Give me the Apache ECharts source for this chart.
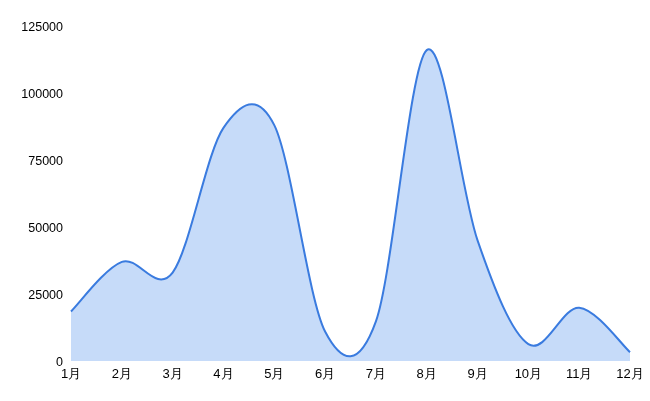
<!DOCTYPE html>
<html><head><meta charset="utf-8">
<script src="https://cdn.jsdelivr.net/npm/echarts@6/dist/echarts.min.js"></script>
<style>html,body{margin:0;padding:0;background:#fff}#c{width:650px;height:401px}</style>
</head><body><div id="c"></div>
<script>
const months = ['1月','2月','3月','4月','5月','6月','7月','8月','9月','10月','11月','12月'];
const values = [18500, 37000, 33000, 87000, 88000, 11000, 14800, 116000, 45000, 6300, 19900, 3300];
const yTicks = [0, 25000, 50000, 75000, 100000, 125000];

function renderCurve(params, api) {
  if (params.dataIndex !== 0) return null;
  const n = values.length;
  const pts = [];
  for (let i = 0; i < n; i++) pts.push(api.coord([i, values[i]]));
  const base = api.coord([0, 0])[1];
  const P = i => pts[Math.max(0, Math.min(n - 1, i))];
  let line = 'M' + pts[0][0] + ' ' + pts[0][1];
  for (let i = 0; i < n - 1; i++) {
    const p0 = P(i - 1), p1 = P(i), p2 = P(i + 1), p3 = P(i + 2);
    const c1x = p1[0] + (p2[0] - p0[0]) / 6, c1y = p1[1] + (p2[1] - p0[1]) / 6;
    const c2x = p2[0] - (p3[0] - p1[0]) / 6, c2y = p2[1] - (p3[1] - p1[1]) / 6;
    line += ' C' + c1x + ' ' + c1y + ' ' + c2x + ' ' + c2y + ' ' + p2[0] + ' ' + p2[1];
  }
  const area = line + ' L' + pts[n - 1][0] + ' ' + base + ' L' + pts[0][0] + ' ' + base + ' Z';
  return {
    type: 'group',
    children: [
      {type: 'path', shape: {pathData: area}, style: {fill: '#c6dbf9', stroke: null}},
      {type: 'path', shape: {pathData: line}, style: {fill: null, stroke: '#3a7bdf', lineWidth: 2}}
    ]
  };
}

const chart = echarts.init(document.getElementById('c'));
chart.setOption({
  animation: false,
  grid: {left: 71, right: 20, top: 26, bottom: 40},
  xAxis: {
    type: 'category', data: months, boundaryGap: false,
    axisLine: {show: false}, axisTick: {show: false},
    axisLabel: {color: '#000', fontSize: 13, margin: 7, fontFamily: 'Liberation Sans, Arial, sans-serif'}
  },
  yAxis: {
    type: 'value', min: yTicks[0], max: yTicks[yTicks.length - 1], interval: yTicks[1] - yTicks[0],
    splitLine: {show: false}, axisLine: {show: false}, axisTick: {show: false},
    axisLabel: {
      margin: 8,
      formatter: v => '{t|' + v + '}',
      rich: {t: {color: '#000', fontSize: 12.5, fontFamily: 'Liberation Sans, Arial, sans-serif', padding: [4, 0, 0, 0]}}
    }
  },
  series: [{
    type: 'custom', renderItem: renderCurve,
    data: values.map((v, i) => [i, v]),
    encode: {x: 0, y: 1}
  }]
});
</script></body></html>
